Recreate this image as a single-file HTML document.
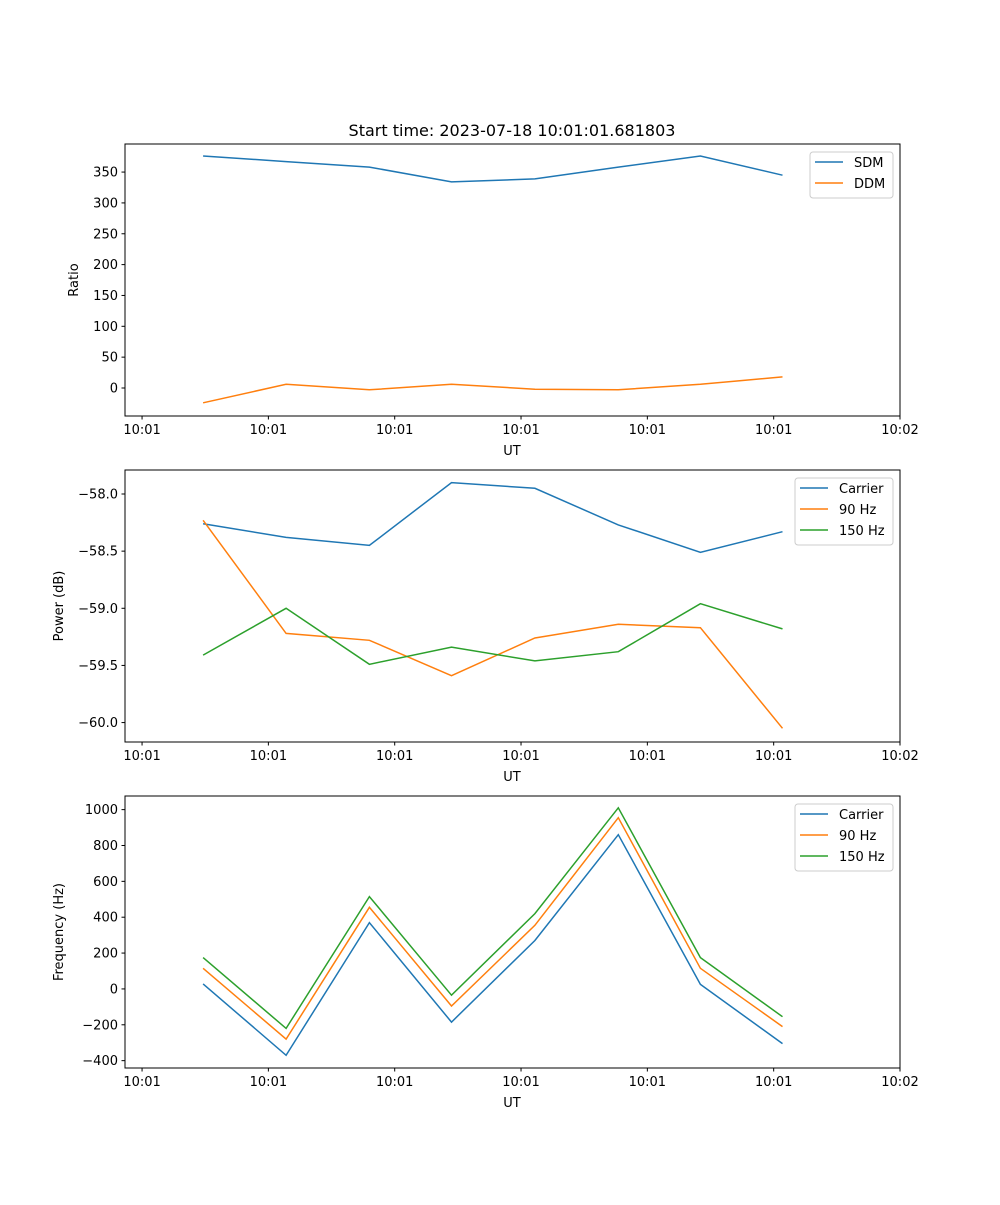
<!DOCTYPE html>
<html><head><meta charset="utf-8"><style>
body{margin:0;background:#fff;}
svg text{font-family:"DejaVu Sans","Liberation Sans",sans-serif;font-size:13px;fill:#000;}
</style></head><body>
<svg id="chart" width="1000" height="1200" xmlns="http://www.w3.org/2000/svg">
<text x="512" y="136" text-anchor="middle" style="font-size:16px">Start time: 2023-07-18 10:01:01.681803</text>
</svg>
<script>
const xTickLabels = ["10:01","10:01","10:01","10:01","10:01","10:01","10:02"];
const times = [0.483,1.14,1.80,2.45,3.11,3.77,4.42,5.07];
const sdm = [376,367,358,334,339,358,376,345];
const ddm = [-24,6,-3,6,-2,-3,6,18];
const powCarrier = [-58.26,-58.38,-58.45,-57.90,-57.95,-58.27,-58.51,-58.33];
const pow90 = [-58.23,-59.22,-59.28,-59.59,-59.26,-59.14,-59.17,-60.05];
const pow150 = [-59.41,-59.00,-59.49,-59.34,-59.46,-59.38,-58.96,-59.18];
const freqCarrier = [28,-370,370,-185,270,860,25,-305];
const freq90 = [115,-280,455,-95,355,955,115,-210];
const freq150 = [175,-220,515,-35,420,1010,175,-155];
const ratioTicks = [0,50,100,150,200,250,300,350];
const powTicks = [-60.0,-59.5,-59.0,-58.5,-58.0];
const freqTicks = [-400,-200,0,200,400,600,800,1000];

const NS="http://www.w3.org/2000/svg";
const svg=document.getElementById('chart');
const C=['#1f77b4','#ff7f0e','#2ca02c'];
function mk(tag,attrs,parent){const e=document.createElementNS(NS,tag);for(const k in attrs)e.setAttribute(k,attrs[k]);(parent||svg).appendChild(e);return e;}
const L=125,R=900,xmin=-0.135,xmax=6.0;
const X=v=>L+(v-xmin)/(xmax-xmin)*(R-L);

function panel(name,top,ymin,ymax,yTicks,fmt,ylabel,series,names,legW){
  const bot=top+272;
  const Y=v=>bot-(v-ymin)/(ymax-ymin)*272;
  const g=mk('g',{});
  
  
  series.forEach((s,i)=>{
    const p=mk('polyline',{points:s.map((v,j)=>X(times[j]).toFixed(1)+','+Y(v).toFixed(1)).join(' '),fill:'none',stroke:C[i],'stroke-width':1.5},g);
    
    
  });
  const fr=mk('rect',{x:L,y:top,width:R-L,height:272,fill:'none',stroke:'#000','stroke-width':1},g);
  
  
  xTickLabels.forEach((t,i)=>{
    const x=X(i);
    mk('line',{x1:x,x2:x,y1:bot,y2:bot+3.5,stroke:'#000'},g);
    const tx=mk('text',{x:x,y:bot+18,'text-anchor':'middle'},g);tx.textContent=t;
    
    
  });
  yTicks.forEach(v=>{
    const y=Y(v);
    mk('line',{x1:L-3.5,x2:L,y1:y,y2:y,stroke:'#000'},g);
    const tx=mk('text',{x:L-7,y:y+4.5,'text-anchor':'end'},g);tx.textContent=fmt(v);
    
    
  });
  const xl=mk('text',{x:512,y:bot+39,'text-anchor':'middle'},g);xl.textContent='UT';
  
  
  const lx=L-(ylabel==='Ratio'?47:62);
  const yl=mk('text',{x:lx,y:top+136,'text-anchor':'middle',transform:`rotate(-90 ${lx} ${top+136})`},g);yl.textContent=ylabel;
  
  
  const lg=mk('g',{},g);
  
  
  const lx0=893-legW,h=names.length*21+4;
  mk('rect',{x:lx0,y:top+8,width:legW,height:h,rx:3,fill:'#fff',stroke:'#ccc'},lg);
  names.forEach((n,i)=>{
    const y=top+18+i*21;
    mk('line',{x1:lx0+5,x2:lx0+33,y1:y,y2:y,stroke:C[i],'stroke-width':1.5},lg);
    const t=mk('text',{x:lx0+44,y:y+5},lg);t.textContent=n;
    
    
  });
}
panel('ratio',144,-45.4,395.5,ratioTicks,v=>String(v),'Ratio',[sdm,ddm],['SDM','DDM'],83);
panel('power',470,-60.17,-57.79,powTicks,v=>'\u2212'+Math.abs(v).toFixed(1),'Power (dB)',[powCarrier,pow90,pow150],['Carrier','90 Hz','150 Hz'],98);
panel('frequency',796,-441,1076,freqTicks,v=>v<0?'\u2212'+Math.abs(v):String(v),'Frequency (Hz)',[freqCarrier,freq90,freq150],['Carrier','90 Hz','150 Hz'],98);
</script>
</body></html>
